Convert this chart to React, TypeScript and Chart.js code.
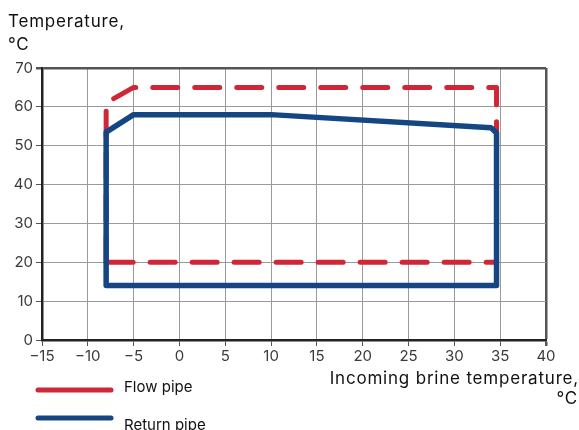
import React, { useEffect, useRef } from "react";
import { Chart, registerables } from "chart.js";

Chart.register(...registerables);

const flowX = [-8, -8, -5, 34.6, 34.6, -8];
const flowY = [20, 61, 65, 65, 20, 20];
const returnX = [-8, -8, -5, 10, 34, 34.6, 34.6, -8];
const returnY = [14, 53.5, 58, 58, 54.6, 53.3, 14, 14];
const xTicks = [-15, -10, -5, 0, 5, 10, 15, 20, 25, 30, 35, 40];
const yTicks = [0, 10, 20, 30, 40, 50, 60, 70];
const yTitle = ["Temperature,", "°C"];
const xTitle = ["Incoming brine temperature,", "°C"];
const legendLabels = ["Flow pipe", "Return pipe"];

const RED = "#cf2738";
const BLUE = "#134683";
const FONT = "Inter, 'DejaVu Sans', sans-serif";

export default function App() {
  const ref = useRef<HTMLCanvasElement>(null);
  useEffect(() => {
    if (!ref.current) return;
    const overlay = {
      id: "overlay",
      afterDraw(chart: any) {
        const ctx = chart.ctx;
        ctx.save();
        ctx.fillStyle = "#111";
        ctx.font = `17px ${FONT}`;
        (ctx as any).letterSpacing = "0.8px";
        ctx.textAlign = "left";
        ctx.textBaseline = "alphabetic";
        ctx.fillText(yTitle[0], 8, 27);
        ctx.fillText(yTitle[1], 8, 50);
        ctx.textAlign = "right";
        ctx.fillText(xTitle[0], 579, 384);
        ctx.fillText(xTitle[1], 578, 404);
        (ctx as any).letterSpacing = "0px";
        const items = [
          { c: RED, y: 390, t: legendLabels[0], ty: 392 },
          { c: BLUE, y: 418, t: legendLabels[1], ty: 430 },
        ];
        ctx.lineCap = "round";
        ctx.lineWidth = 5;
        ctx.font = `15px ${FONT}`;
        ctx.textAlign = "left";
        for (const it of items) {
          ctx.strokeStyle = it.c;
          ctx.beginPath();
          ctx.moveTo(38, it.y);
          ctx.lineTo(111, it.y);
          ctx.stroke();
          ctx.fillText(it.t, 124, it.ty);
        }
        ctx.restore();
      },
    };
    const chart = new Chart(ref.current, {
      type: "line",
      data: {
        datasets: [
          {
            label: legendLabels[0],
            data: flowX.map((x, i) => ({ x, y: flowY[i] })),
            borderColor: RED,
            borderWidth: 5,
            borderDash: [25, 17],
            borderDashOffset: 0,
            borderJoinStyle: "round",
            borderCapStyle: "round",
            pointRadius: 0,
            fill: false,
            tension: 0,
            order: 1,
          },
          {
            label: legendLabels[1],
            data: returnX.map((x, i) => ({ x, y: returnY[i] })),
            borderColor: BLUE,
            borderWidth: 5.5,
            borderJoinStyle: "round",
            borderCapStyle: "round",
            pointRadius: 0,
            fill: false,
            tension: 0,
            order: 0,
          },
        ],
      },
      options: {
        responsive: false,
        animation: false,
        devicePixelRatio: 1,
        layout: { padding: { top: 68, right: 33, left: 0, bottom: 0 } },
        plugins: { legend: { display: false }, tooltip: { enabled: false } },
        scales: {
          x: {
            type: "linear",
            min: xTicks[0],
            max: xTicks[xTicks.length - 1],
            afterFit: (s: any) => {
              s.height = 90;
            },
            afterBuildTicks: (s: any) => {
              s.ticks = xTicks.map((v) => ({ value: v }));
            },
            ticks: {
              autoSkip: false,
              maxRotation: 0,
              padding: 1,
              color: "#3a3a3a",
              font: { family: FONT, size: 15 },
              callback: (v: any) => String(v).replace("-", "\u2212"),
            },
            grid: {
              color: (c: any) => (c.tick && c.tick.value === 40 ? "#555" : "#9a9a9a"),
              lineWidth: (c: any) => (c.tick && c.tick.value === 40 ? 2.5 : 1),
              tickColor: "#555",
              tickLength: 6,
            },
            border: { display: true, color: "#222", width: 2.5 },
          },
          y: {
            type: "linear",
            min: yTicks[0],
            max: yTicks[yTicks.length - 1],
            afterFit: (s: any) => {
              s.width = 42;
            },
            afterBuildTicks: (s: any) => {
              s.ticks = yTicks.map((v) => ({ value: v }));
            },
            ticks: {
              autoSkip: false,
              padding: 3,
              color: "#3a3a3a",
              font: { family: FONT, size: 15 },
            },
            grid: {
              color: (c: any) => (c.tick && c.tick.value === 70 ? "#555" : "#9a9a9a"),
              lineWidth: (c: any) => (c.tick && c.tick.value === 70 ? 2.5 : 1),
              tickColor: "#555",
              tickLength: 6,
            },
            border: { display: true, color: "#222", width: 2.5 },
          },
        },
      },
      plugins: [overlay],
    } as any);
    return () => chart.destroy();
  }, []);
  return (
    <div style={{ position: "fixed", left: 0, top: 0, width: 579, height: 430, background: "#fff" }}>
      <canvas ref={ref} width={579} height={430} style={{ display: "block" }} />
    </div>
  );
}
